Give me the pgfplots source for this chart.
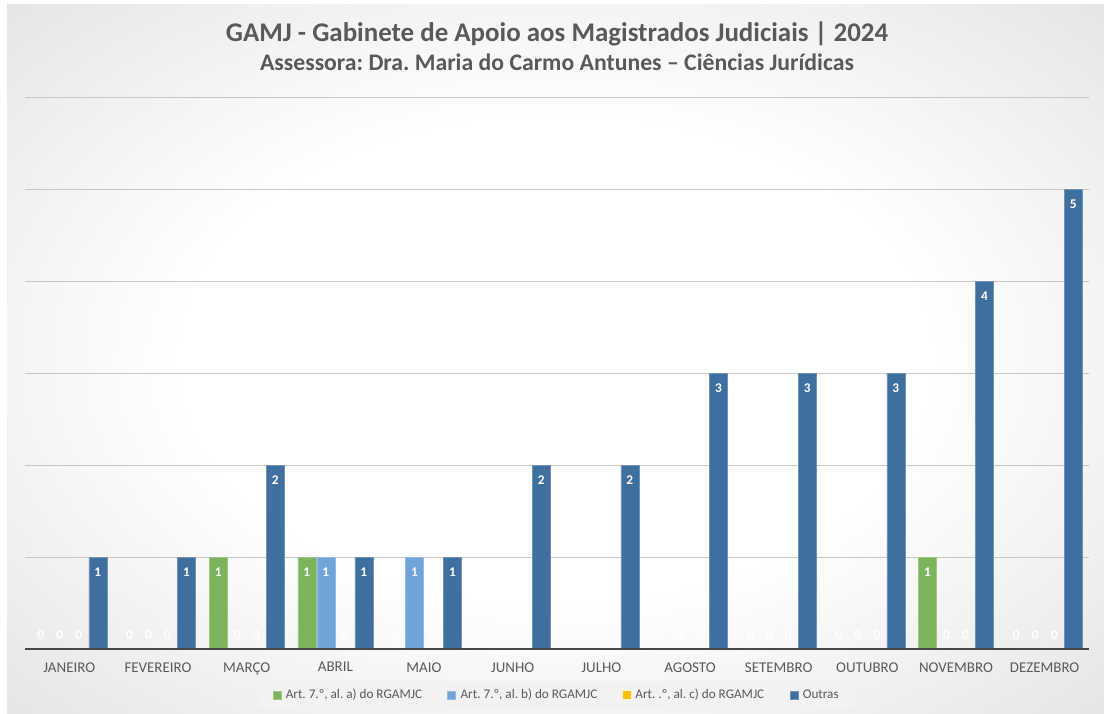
\documentclass[border=0pt]{standalone}
\usepackage{fontspec}
\setmainfont{Carlito}
\usepackage{pgfplots}
\pgfplotsset{compat=1.18}
\frenchspacing

\definecolor{artA}{HTML}{7CB45B}
\definecolor{artB}{HTML}{70A4D8}
\definecolor{artC}{HTML}{FFC000}
\definecolor{outras}{HTML}{3F6F9E}
\definecolor{txt}{HTML}{595959}
\pgfdeclareradialshading{bgshade}{\pgfpoint{0bp}{0bp}}{color(0bp)=(white); color(17bp)=(white); color(50bp)=(black!18); color(72bp)=(black!25)}

\pgfplotsset{
  sq legend/.style={legend image code/.code={\fill[##1] (0pt,-3pt) rectangle (6pt,3pt);}},
}

\begin{document}
\begin{tikzpicture}
\fill[white] (0,0) rectangle (828pt,535.5pt);
\shade[shading=bgshade] (5.25pt,0) rectangle (828pt,531.75pt);

\node[font=\bfseries\fontsize{20.2}{23}\selectfont, text=txt] at (417.75pt,510pt)
  {GAMJ - Gabinete de Apoio aos Magistrados Judiciais | 2024};
\node[font=\bfseries\fontsize{17.8}{20}\selectfont, text=txt] at (417.75pt,489pt)
  {Assessora: Dra. Maria do Carmo Antunes – Ciências Jurídicas};

\begin{axis}[
    at={(18.75pt,48.75pt)}, anchor=south west,
    scale only axis, width=798pt, height=414pt,
    xmin=-0.5, xmax=11.5, ymin=0, ymax=6,
    ybar=0.75pt, bar width=13.5pt,
    clip=false,
    axis line style={draw=none},
    major tick length=0pt,
    xtick={0,...,11},
    xticklabels={JANEIRO,FEVEREIRO,MARÇO,ABRIL,MAIO,JUNHO,JULHO,AGOSTO,SETEMBRO,OUTUBRO,NOVEMBRO,DEZEMBRO},
    xticklabel style={font=\fontsize{11.2}{13}\selectfont, text=txt, yshift=-6.5pt},
    ytick={1,...,6}, yticklabels={},
    ymajorgrids, major grid style={black!22, line width=0.6pt},
    /pgf/number format/assume math mode=true,
    nodes near coords,
    visualization depends on=y \as \rawy,
    every node near coord/.append style={anchor=center, text=white,
      font=\bfseries\fontsize{10}{11}\selectfont,
      yshift={\rawy==0 ? 10.5 : -11.25}},
    legend columns=4,
    legend style={at={(axis description cs:0.5,-0.0835)}, anchor=center,
      draw=none, fill=black!5,
      font=\fontsize{9.9}{11}\selectfont, text=txt,
      inner xsep=10pt, inner ysep=4pt,
      /tikz/every odd column/.append style={column sep=1.5pt},
      /tikz/every even column/.append style={column sep=17pt}},
    legend cell align=left,
]
\addplot[fill=artA, draw=artA!75!white, line width=0.4pt, sq legend] coordinates {
  (0,0)(1,0)(2,1)(3,1)(4,0)(5,0)(6,0)(7,0)(8,0)(9,0)(10,1)(11,0)};
\addlegendentry{Art. 7.º, al. a) do RGAMJC}
\addplot[fill=artB, draw=artB!75!white, line width=0.4pt, sq legend] coordinates {
  (0,0)(1,0)(2,0)(3,1)(4,1)(5,0)(6,0)(7,0)(8,0)(9,0)(10,0)(11,0)};
\addlegendentry{Art. 7.º, al. b) do RGAMJC}
\addplot[fill=artC, draw=none, sq legend] coordinates {
  (0,0)(1,0)(2,0)(3,0)(4,0)(5,0)(6,0)(7,0)(8,0)(9,0)(10,0)(11,0)};
\addlegendentry{Art. .º, al. c) do RGAMJC}
\addplot[fill=outras, draw=outras!75!white, line width=0.4pt, sq legend] coordinates {
  (0,1)(1,1)(2,2)(3,1)(4,1)(5,2)(6,2)(7,3)(8,3)(9,3)(10,4)(11,5)};
\addlegendentry{Outras}

\draw[black!72, line width=1.5pt] (axis cs:-0.5,0) -- (axis cs:11.5,0);
\end{axis}
\end{tikzpicture}
\end{document}
